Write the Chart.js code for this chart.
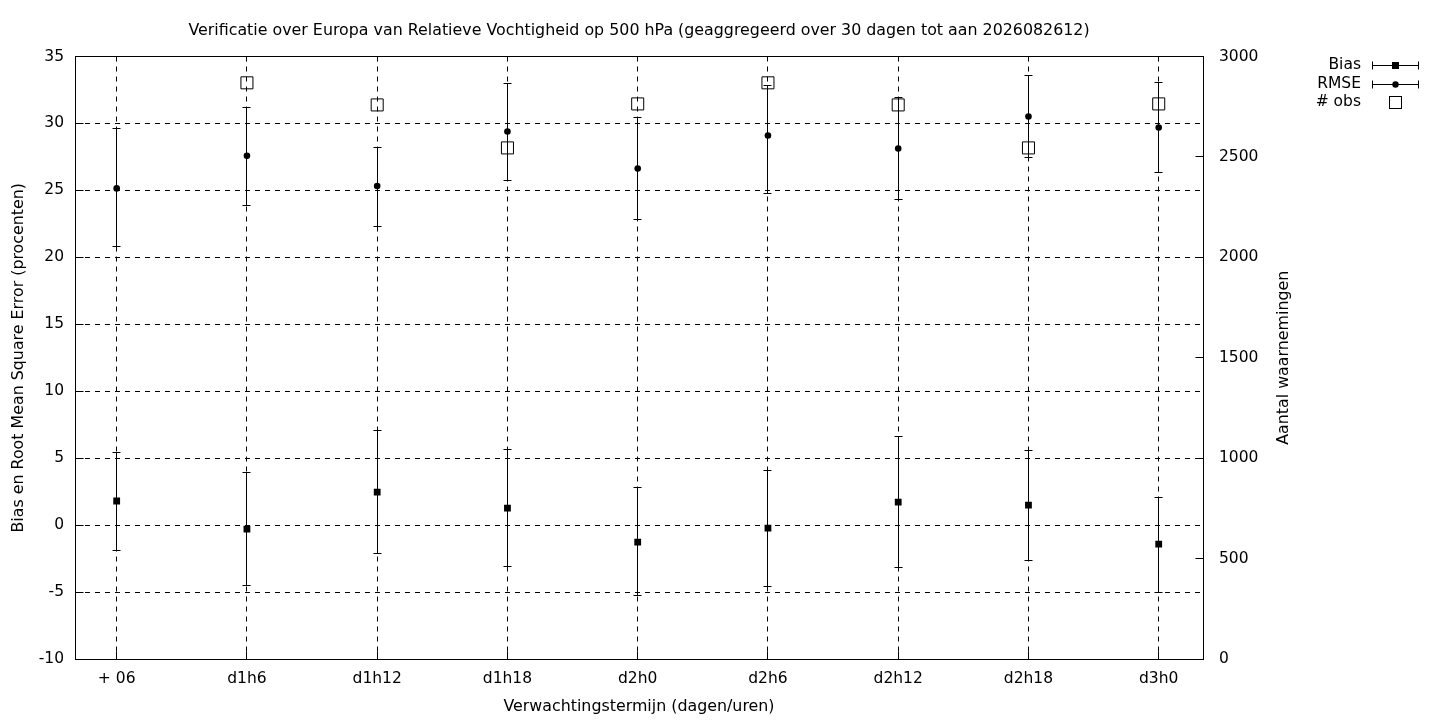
<!DOCTYPE html>
<html>
<head>
<meta charset="utf-8">
<script src="https://cdn.jsdelivr.net/npm/chart.js@4.4.1/dist/chart.umd.min.js"></script>
<style>
  html, body { margin: 0; padding: 0; background: #fff; }
  #wrap { width: 1440px; height: 720px; }
</style>
</head>
<body>
<div id="wrap"><canvas id="myChart"></canvas></div>
<script>
const categories = ['+ 06', 'd1h6', 'd1h12', 'd1h18', 'd2h0', 'd2h6', 'd2h12', 'd2h18', 'd3h0'];

const biasValues = [1.8, -0.3, 2.47, 1.27, -1.27, -0.22, 1.72, 1.49, -1.42];
const biasLow    = [-1.9, -4.54, -2.09, -3.12, -5.25, -4.6, -3.19, -2.62, -5.0];
const biasHigh   = [5.46, 3.96, 7.1, 5.67, 2.79, 4.08, 6.6, 5.6, 2.09];

const rmseValues = [25.15, 27.58, 25.33, 29.4, 26.64, 29.1, 28.13, 30.52, 29.7];
const rmseLow    = [20.8, 23.86, 22.3, 25.75, 22.83, 24.8, 24.3, 27.48, 26.34];
const rmseHigh   = [29.6, 31.2, 28.2, 32.99, 30.45, 32.8, 31.94, 33.59, 33.07];

const obsCount   = [null, 2869, 2759, 2545, 2764, 2869, 2759, 2545, 2764];

const leftTicks  = [-10, -5, 0, 5, 10, 15, 20, 25, 30, 35];
const rightTicks = [0, 500, 1000, 1500, 2000, 2500, 3000];

const FONT = 'DejaVu Sans';
const TICK_SIZE = 15.5;
const TITLE_SIZE = 15.85;

function toPoints(values) {
  return values.map((v, i) => ({ x: i, y: v }));
}

// same pixel snapping as Chart.js grid lines
function snap(p) {
  return Math.round(p - 0.5) + 0.5;
}

// error bars, drawn under the markers
const errorBars = {
  id: 'errorBars',
  beforeDatasetsDraw(chart) {
    const ctx = chart.ctx;
    const xs = chart.scales.x;
    const ys = chart.scales.y;
    ctx.save();
    ctx.strokeStyle = '#000';
    ctx.lineWidth = 1;
    chart.data.datasets.forEach(ds => {
      if (!ds.errLow) return;
      ds.errLow.forEach((lo, i) => {
        const x = snap(xs.getPixelForValue(i));
        const y1 = snap(ys.getPixelForValue(lo));
        const y2 = snap(ys.getPixelForValue(ds.errHigh[i]));
        ctx.beginPath();
        ctx.moveTo(x, y1); ctx.lineTo(x, y2);
        ctx.moveTo(x - 4, y1); ctx.lineTo(x + 4, y1);
        ctx.moveTo(x - 4, y2); ctx.lineTo(x + 4, y2);
        ctx.stroke();
      });
    });
    ctx.restore();
  }
};

// frame, inward ticks, right axis title and gnuplot-like key
const frameAndKey = {
  id: 'frameAndKey',
  afterDraw(chart) {
    const ctx = chart.ctx;
    const a = chart.chartArea;
    const xs = chart.scales.x;
    const ys = chart.scales.y;
    const y2s = chart.scales.y2;
    ctx.save();
    ctx.strokeStyle = '#000';
    ctx.lineWidth = 1;
    ctx.setLineDash([]);
    const l = snap(a.left), r = snap(a.right), t = snap(a.top), b = snap(a.bottom);
    ctx.strokeRect(l, t, r - l, b - t);
    ctx.beginPath();
    leftTicks.forEach(v => {
      const y = snap(ys.getPixelForValue(v));
      ctx.moveTo(l, y); ctx.lineTo(l + 8, y);
    });
    rightTicks.forEach(v => {
      const y = snap(y2s.getPixelForValue(v));
      ctx.moveTo(r, y); ctx.lineTo(r - 8, y);
    });
    categories.forEach((c, i) => {
      const x = snap(xs.getPixelForValue(i));
      ctx.moveTo(x, b); ctx.lineTo(x, b - 8);
    });
    ctx.stroke();

    ctx.fillStyle = '#000';

    // right axis title, reading bottom to top
    ctx.save();
    ctx.font = TITLE_SIZE + 'px "' + FONT + '"';
    ctx.textAlign = 'center';
    ctx.textBaseline = 'middle';
    ctx.translate(1284, (a.top + a.bottom) / 2);
    ctx.rotate(-Math.PI / 2);
    ctx.fillText('Aantal waarnemingen', 0, 0);
    ctx.restore();

    // key
    ctx.font = TICK_SIZE + 'px "' + FONT + '"';
    ctx.textAlign = 'right';
    ctx.textBaseline = 'middle';
    const rows = [
      { label: 'Bias', y: 65, kind: 'rect' },
      { label: 'RMSE', y: 84, kind: 'circle' },
      { label: '# obs', y: 102, kind: 'open' }
    ];
    rows.forEach(row => {
      ctx.fillText(row.label, 1361, row.y);
      const y = row.y + 0.5;
      if (row.kind === 'open') {
        ctx.strokeRect(1389.5, row.y - 5.5, 12, 12);
        return;
      }
      ctx.beginPath();
      ctx.moveTo(1372, y); ctx.lineTo(1419, y);
      ctx.moveTo(1372.5, y - 4); ctx.lineTo(1372.5, y + 4);
      ctx.moveTo(1418.5, y - 4); ctx.lineTo(1418.5, y + 4);
      ctx.stroke();
      if (row.kind === 'rect') {
        ctx.fillRect(1392, row.y - 3, 7, 7);
      } else {
        ctx.beginPath();
        ctx.arc(1395.5, y, 3.2, 0, Math.PI * 2);
        ctx.fill();
      }
    });
    ctx.restore();
  }
};

const data = {
  datasets: [
    {
      label: 'Bias',
      data: toPoints(biasValues),
      errLow: biasLow,
      errHigh: biasHigh,
      yAxisID: 'y',
      pointStyle: 'rect',
      pointRadius: 4.8,
      backgroundColor: '#000',
      borderColor: '#000',
      borderWidth: 0
    },
    {
      label: 'RMSE',
      data: toPoints(rmseValues),
      errLow: rmseLow,
      errHigh: rmseHigh,
      yAxisID: 'y',
      pointStyle: 'circle',
      pointRadius: 3.3,
      backgroundColor: '#000',
      borderColor: '#000',
      borderWidth: 0
    },
    {
      label: '# obs',
      data: toPoints(obsCount),
      yAxisID: 'y2',
      pointStyle: 'rect',
      pointRadius: 8.5,
      backgroundColor: 'transparent',
      borderColor: '#000',
      borderWidth: 1
    }
  ]
};

const config = {
  type: 'scatter',
  data: data,
  options: {
    responsive: true,
    maintainAspectRatio: false,
    animation: false,
    layout: { padding: { left: 5, right: 143, top: 0, bottom: 0 } },
    plugins: {
      legend: { display: false },
      tooltip: { enabled: false },
      title: {
        display: true,
        fullSize: false,
        text: 'Verificatie over Europa van Relatieve Vochtigheid op 500 hPa (geaggregeerd over 30 dagen tot aan 2026082612)',
        color: '#000',
        font: { family: FONT, size: TITLE_SIZE, weight: 'normal', lineHeight: 1.2 },
        padding: { top: 21.5, bottom: 16 }
      }
    },
    scales: {
      x: {
        type: 'linear',
        min: -0.32,
        max: 8.34,
        afterBuildTicks: axis => { axis.ticks = categories.map((c, i) => ({ value: i })); },
        afterFit: axis => { axis.height = 61; },
        ticks: {
          color: '#000',
          padding: 11,
          maxRotation: 0,
          autoSkip: false,
          font: { family: FONT, size: TICK_SIZE },
          callback: v => categories[v]
        },
        grid: { color: '#000', lineWidth: 1, drawTicks: false },
        border: { display: false, dash: [5, 5] },
        title: {
          display: true,
          text: 'Verwachtingstermijn (dagen/uren)',
          color: '#000',
          font: { family: FONT, size: TITLE_SIZE, lineHeight: 1.2 }
        }
      },
      y: {
        position: 'left',
        min: -10,
        max: 35,
        afterBuildTicks: axis => { axis.ticks = leftTicks.map(v => ({ value: v })); },
        afterFit: axis => { axis.width = 70; },
        ticks: {
          color: '#000',
          padding: 11,
          font: { family: FONT, size: TICK_SIZE },
          callback: v => String(v)
        },
        grid: { color: '#000', lineWidth: 1, drawTicks: false },
        border: { display: false, dash: [5, 5] },
        title: {
          display: true,
          text: 'Bias en Root Mean Square Error (procenten)',
          color: '#000',
          font: { family: FONT, size: TITLE_SIZE, lineHeight: 1.2 }
        }
      },
      y2: {
        position: 'right',
        min: 0,
        max: 3000,
        afterBuildTicks: axis => { axis.ticks = rightTicks.map(v => ({ value: v })); },
        afterFit: axis => { axis.width = 94; },
        ticks: {
          color: '#000',
          padding: 16,
          font: { family: FONT, size: TICK_SIZE },
          callback: v => String(v)
        },
        grid: { display: false, drawTicks: false },
        border: { display: false },
        title: { display: false }
      }
    }
  },
  plugins: [errorBars, frameAndKey]
};

const myChart = new Chart(document.getElementById('myChart'), config);
</script>
</body>
</html>
